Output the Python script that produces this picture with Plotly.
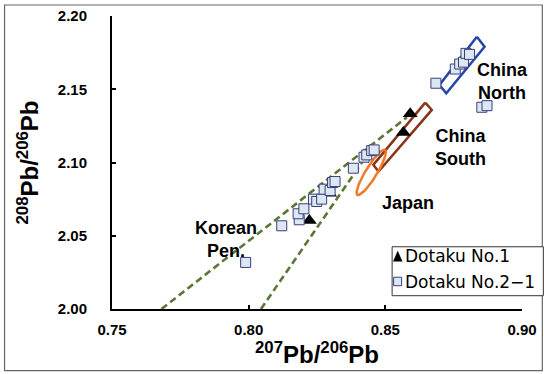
import plotly.graph_objects as go
import numpy as np

# --- data ---
tri_x = [0.8222, 0.8296, 0.8566, 0.8591]
tri_y = [2.0604, 2.0790, 2.1204, 2.1332]

sq_x = [0.7989, 0.8121, 0.8185, 0.8181, 0.8202, 0.8237, 0.8249, 0.8267, 0.8276, 0.8298,
        0.8307, 0.8316, 0.8383, 0.8422, 0.8432, 0.8450, 0.8459,
        0.8685, 0.8756, 0.8772, 0.8786, 0.8795, 0.8808, 0.8853, 0.8872]
sq_y = [2.0318, 2.0568, 2.0609, 2.0650, 2.0684, 2.0750, 2.0734, 2.0750, 2.0818, 2.0809,
        2.0863, 2.0870, 2.0961, 2.1036, 2.1052, 2.1081, 2.1086,
        2.1541, 2.1638, 2.1672, 2.1685, 2.1745, 2.1738, 2.1377, 2.1388]

series_names = ["Dotaku No.1", "Dotaku No.2\u22121"]

# field outlines
china_north_x = [0.8835, 0.8863, 0.8723, 0.8698, 0.8835]
china_north_y = [2.1859, 2.1790, 2.1473, 2.1529, 2.1859]
china_south_x = [0.8646, 0.8670, 0.8475, 0.8456, 0.8646]
china_south_y = [2.1409, 2.1359, 2.0938, 2.0984, 2.1409]
japan_tips_x = [0.8398, 0.8499]
japan_tips_y = [2.0779, 2.1086]
japan_halfwidth = [0.00175, -0.0020]

korea_upper_x = [0.7681, 0.8579]
korea_upper_y = [2.0000, 2.1309]
korea_lower_x = [0.8045, 0.8440]
korea_lower_y = [2.0000, 2.1070]

labels = ["China<br>North", "China<br>South", "Japan", "Korean<br>Pen."]
label_x = [0.8928, 0.8774, 0.8583, 0.7916]
label_y = [2.1552, 2.1103, 2.0723, 2.0472]

x_ticks = [0.75, 0.80, 0.85, 0.90]
y_ticks = [2.00, 2.05, 2.10, 2.15, 2.20]

# --- colours ---
green = "#5a7736"
sq_fill = "#dce8f1"
sq_edge = "#3c3c7c"

# --- build ellipse outline for Japan field ---
t = np.linspace(0, 2 * np.pi, 80)
cx = (japan_tips_x[0] + japan_tips_x[1]) / 2
cy = (japan_tips_y[0] + japan_tips_y[1]) / 2
ax_ = (japan_tips_x[1] - japan_tips_x[0]) / 2
ay_ = (japan_tips_y[1] - japan_tips_y[0]) / 2
jx = cx + np.cos(t) * ax_ + np.sin(t) * japan_halfwidth[0]
jy = cy + np.cos(t) * ay_ + np.sin(t) * japan_halfwidth[1]

fig = go.Figure()
for lx, ly in [(korea_upper_x, korea_upper_y), (korea_lower_x, korea_lower_y)]:
    fig.add_trace(go.Scatter(x=lx, y=ly, mode="lines", showlegend=False, hoverinfo="skip",
                             line=dict(color=green, width=2.6, dash="7px,4px")))
fig.add_trace(go.Scatter(x=china_north_x, y=china_north_y, mode="lines", showlegend=False,
                         line=dict(color="#2446a8", width=2.5)))
fig.add_trace(go.Scatter(x=china_south_x, y=china_south_y, mode="lines", showlegend=False,
                         line=dict(color="#8a3418", width=2.5)))
fig.add_trace(go.Scatter(x=jx, y=jy, mode="lines", showlegend=False,
                         line=dict(color="#f07a28", width=2.5)))

fig.add_trace(go.Scatter(x=tri_x, y=tri_y, mode="markers", name=series_names[0], showlegend=False,
                         marker=dict(symbol="triangle-up", size=13, color="black")))
fig.add_trace(go.Scatter(x=sq_x, y=sq_y, mode="markers", name=series_names[1], showlegend=False,
                         marker=dict(symbol="square", size=10, color=sq_fill,
                                     line=dict(color=sq_edge, width=1))))

for txt, ax1, ay1 in zip(labels, label_x, label_y):
    fig.add_annotation(x=ax1, y=ay1, text=txt, showarrow=False,
                       font=dict(family="Liberation Sans, Arial", size=18, color="black", weight="bold"))

# pixel -> paper helpers
L, R, T, B = 112.3, 521.7, 16.0, 309.3
def px(p):
    return (p - L) / (R - L)
def py(p):
    return (B - p) / (B - T)

# outer frame
fig.add_shape(type="rect", xref="paper", yref="paper",
              x0=px(5), x1=px(542), y0=py(371), y1=py(5),
              line=dict(color="#666666", width=1.2), layer="below")

# legend box (drawn manually so symbols sit right next to the text)
fig.add_shape(type="rect", xref="paper", yref="paper",
              x0=px(392), x1=px(543), y0=py(296), y1=py(247),
              line=dict(color="#333333", width=1), fillcolor="white", layer="above")
fig.add_shape(type="path", xref="paper", yref="paper",
              path=f"M {px(393.3)} {py(261.5)} L {px(402)} {py(261.5)} L {px(397.6)} {py(251.5)} Z",
              line=dict(color="black", width=0.5), fillcolor="black", layer="above")
fig.add_shape(type="rect", xref="paper", yref="paper",
              x0=px(393.5), x1=px(401.5), y0=py(286), y1=py(277.5),
              line=dict(color=sq_edge, width=1), fillcolor=sq_fill, layer="above")
for name, yy in zip(series_names, [256.5, 282]):
    fig.add_annotation(xref="paper", yref="paper", x=px(403), y=py(yy), text=name,
                       showarrow=False, xanchor="left", yanchor="middle",
                       font=dict(family="DejaVu Sans", size=17, color="black"))

tickfont = dict(family="Liberation Sans, Arial", size=15, color="black", weight="bold")
fig.update_xaxes(range=[0.75, 0.90], tickvals=x_ticks, tickformat=".2f",
                 showgrid=False, zeroline=False, showline=True, linecolor="black", linewidth=2,
                 ticks="inside", ticklen=4, tickwidth=2, tickcolor="black",
                 tickfont=tickfont, ticklabelstandoff=6,
                 title=dict(text="<sup>207</sup>Pb/<sup>206</sup>Pb", standoff=4,
                            font=dict(family="Liberation Sans, Arial", size=24, color="black", weight="bold")))
fig.update_yaxes(range=[2.00, 2.20], tickvals=y_ticks, tickformat=".2f",
                 showgrid=False, zeroline=False, showline=True, linecolor="black", linewidth=2,
                 ticks="inside", ticklen=4, tickwidth=2, tickcolor="black",
                 tickfont=tickfont, ticklabelstandoff=20,
                 title=dict(text="<sup>208</sup>Pb/<sup>206</sup>Pb", standoff=12,
                            font=dict(family="Liberation Sans, Arial", size=24, color="black", weight="bold")))

fig.update_layout(
    width=544, height=374,
    margin=dict(l=L, r=544 - R, t=T, b=374 - B, pad=0, autoexpand=False),
    plot_bgcolor="white", paper_bgcolor="white",
    showlegend=False,
)

fig.write_html("out.html")
